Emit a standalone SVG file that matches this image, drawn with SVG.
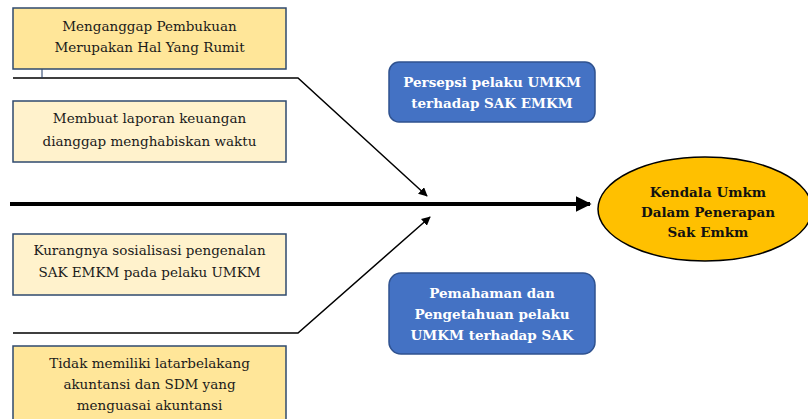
<svg xmlns="http://www.w3.org/2000/svg" width="808" height="419" viewBox="0 0 808 419">
<defs>
<style>
.cause{stroke:#2F4A6E;stroke-width:1.5}
.dark{fill:#FFE699}
.light{fill:#FFF2CC}
.ct{font-family:"DejaVu Serif","Liberation Serif",serif;font-size:13.5px;fill:#1a1a1a;text-anchor:middle}
.cat{fill:#4472C4;stroke:#2F528F;stroke-width:1.5}
.wt{font-family:"DejaVu Serif","Liberation Serif",serif;font-size:13.5px;font-weight:bold;fill:#fff;text-anchor:middle}
.bt{font-family:"DejaVu Serif","Liberation Serif",serif;font-size:13.5px;font-weight:bold;fill:#111;text-anchor:middle}
.ln{fill:none;stroke:#000;stroke-width:1.5}
</style>
<marker id="ah" viewBox="0 0 10 10" refX="9" refY="5" markerWidth="6" markerHeight="6" orient="auto" markerUnits="strokeWidth"><path d="M0,0 L10,5 L0,10 z" fill="#000"/></marker>
<marker id="ahb" viewBox="0 0 10 10" refX="9" refY="5" markerWidth="4" markerHeight="4" orient="auto" markerUnits="strokeWidth"><path d="M0,0 L10,5 L0,10 z" fill="#000"/></marker>
</defs>
<g id="connectors">
<line x1="10" y1="204" x2="590" y2="204" stroke="#000" stroke-width="4" marker-end="url(#ahb)"/>
<polyline class="ln" points="13,78 298,78 427,196" marker-end="url(#ah)"/>
<polyline class="ln" points="13,333 298,333 430,217" marker-end="url(#ah)"/>
<line x1="42" y1="60" x2="42" y2="78" stroke="#1F3864" stroke-width="1"/>
</g>
<g id="cause1">
<rect class="cause dark" x="13" y="8" width="273" height="61"/>
<text class="ct" x="149.5" y="31">Menganggap Pembukuan</text>
<text class="ct" x="149.5" y="52">Merupakan Hal Yang Rumit</text>
</g>
<g id="cause2">
<rect class="cause light" x="13" y="101" width="273" height="61"/>
<text class="ct" x="149.5" y="123">Membuat laporan keuangan</text>
<text class="ct" x="149.5" y="146">dianggap menghabiskan waktu</text>
</g>
<g id="cause3">
<rect class="cause light" x="13" y="234" width="273" height="61"/>
<text class="ct" x="149.5" y="255">Kurangnya sosialisasi pengenalan</text>
<text class="ct" x="149.5" y="277">SAK EMKM pada pelaku UMKM</text>
</g>
<g id="cause4">
<rect class="cause dark" x="13" y="346" width="273" height="80"/>
<text class="ct" x="149.5" y="368">Tidak memiliki latarbelakang</text>
<text class="ct" x="149.5" y="389">akuntansi dan SDM yang</text>
<text class="ct" x="149.5" y="410">menguasai akuntansi</text>
</g>
<g id="category1">
<rect class="cat" x="389" y="62" width="206" height="60" rx="10"/>
<text class="wt" x="492" y="87">Persepsi pelaku UMKM</text>
<text class="wt" x="492" y="108">terhadap SAK EMKM</text>
</g>
<g id="category2">
<rect class="cat" x="389" y="273" width="206" height="81" rx="12"/>
<text class="wt" x="492" y="298">Pemahaman dan</text>
<text class="wt" x="492" y="319">Pengetahuan pelaku</text>
<text class="wt" x="492" y="340">UMKM terhadap SAK</text>
</g>
<g id="effect">
<ellipse cx="705" cy="209" rx="107" ry="52" fill="#FFC000" stroke="#000" stroke-width="1.5"/>
<text class="bt" x="708" y="197">Kendala Umkm</text>
<text class="bt" x="708" y="217">Dalam Penerapan</text>
<text class="bt" x="708" y="237">Sak Emkm</text>
</g>
</svg>
